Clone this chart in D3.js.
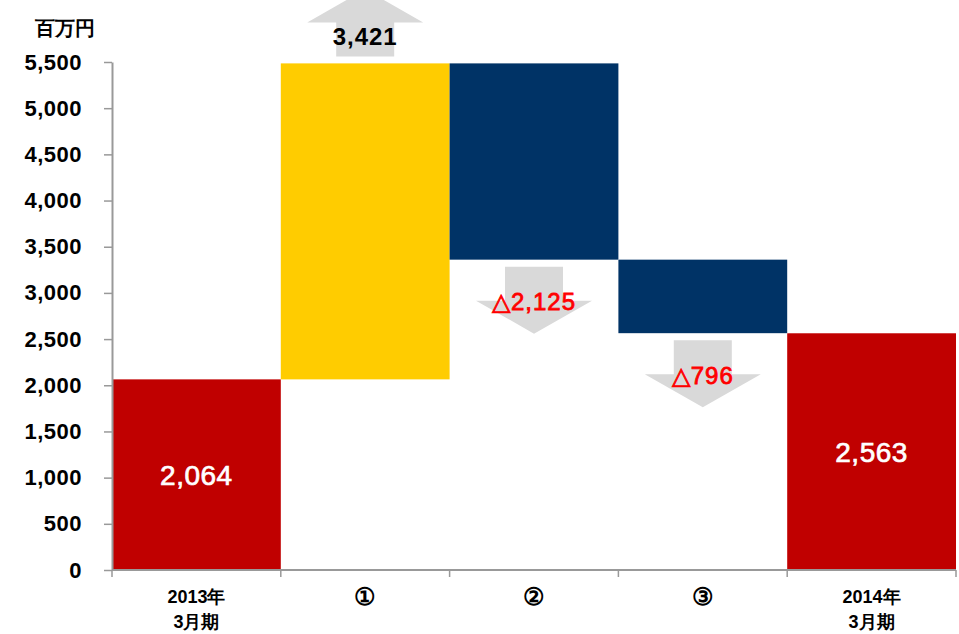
<!DOCTYPE html>
<html>
  <body style="margin:0">
    <style>
      body { background: #fff; }
      text { font-family: 'Liberation Sans', Arial, sans-serif; }
    </style>
    <script src="https://d3js.org/d3.v7.min.js"></script>
    <script type="text/javascript">
      const width = 959;
      const height = 634;
      const margin = { top: 62, right: 3, bottom: 64, left: 112 };

      const categories = ['2013年\n3月期', '①', '②', '③', '2014年\n3月期'];
      // start total, three changes, end total
      const values = [2064, 3421, -2125, -796, 2563];
      const kinds = ['total', 'delta', 'delta', 'delta', 'total'];
      const labels = ['2,064', '3,421', '△2,125', '△796', '2,563'];
      const yTicks = [0, 500, 1000, 1500, 2000, 2500, 3000, 3500, 4000, 4500, 5000, 5500];
      const unitLabel = '百万円';

      const colors = { total: '#C00000', up: '#FFCC00', down: '#003366', arrow: '#D9D9D9' };

      // running base for the waterfall
      let run = 0;
      const bars = categories.map((c, i) => {
        let y0, y1;
        if (kinds[i] === 'total') { y0 = 0; y1 = values[i]; run = values[i]; }
        else { y0 = run; y1 = run + values[i]; run = y1; }
        return { cat: c, y0, y1, kind: kinds[i], value: values[i], label: labels[i] };
      });

      const svg = d3.select('body').append('svg')
        .attr('width', width)
        .attr('height', height);

      const x = d3.scaleBand()
        .domain(categories)
        .range([margin.left, width - margin.right])
        .padding(0);
      const y = d3.scaleLinear()
        .domain([0, 5500])
        .range([height - margin.bottom, margin.top]);

      const fillOf = (d) => d.kind === 'total' ? colors.total : (d.value > 0 ? colors.up : colors.down);

      svg.append('g').selectAll('rect')
        .data(bars)
        .enter()
        .append('rect')
        .attr('x', (d) => x(d.cat))
        .attr('y', (d) => y(Math.max(d.y0, d.y1)))
        .attr('width', x.bandwidth())
        .attr('height', (d) => Math.abs(y(d.y0) - y(d.y1)))
        .attr('fill', fillOf);

      // arrows for the changes
      const arrowLen = 67, headLen = 33, bodyW = 58, headW = 116, gap = 7;
      const deltas = bars.filter((d) => d.kind === 'delta');
      deltas.forEach((d) => {
        const cx = x(d.cat) + x.bandwidth() / 2;
        const up = d.value > 0;
        const s = up ? -1 : 1;
        const start = y(up ? Math.max(d.y0, d.y1) : Math.min(d.y0, d.y1)) + s * gap;
        const headBase = start + s * (arrowLen - headLen);
        const tip = start + s * arrowLen;
        const pts = [
          [cx - bodyW / 2, start], [cx + bodyW / 2, start], [cx + bodyW / 2, headBase],
          [cx + headW / 2, headBase], [cx, tip], [cx - headW / 2, headBase], [cx - bodyW / 2, headBase]
        ];
        svg.append('path')
          .attr('d', d3.line()(pts) + 'Z')
          .attr('fill', colors.arrow);
        svg.append('text')
          .attr('x', cx)
          .attr('y', up ? start - 20 : start + 35)
          .attr('dy', '0.36em')
          .attr('text-anchor', 'middle')
          .attr('font-size', 24)
          .attr('font-weight', up ? 'bold' : 'normal')
          .attr('letter-spacing', 1)
          .attr('stroke', up ? 'none' : '#FF0000')
          .attr('stroke-width', 0.8)
          .attr('fill', up ? '#000' : '#FF0000')
          .text(d.label);
      });

      // labels in the total bars
      svg.append('g').selectAll('text')
        .data(bars.filter((d) => d.kind === 'total'))
        .enter()
        .append('text')
        .attr('x', (d) => x(d.cat) + x.bandwidth() / 2)
        .attr('y', (d) => (y(d.y0) + y(d.y1)) / 2)
        .attr('dy', '0.36em')
        .attr('text-anchor', 'middle')
        .attr('font-size', 28)
        .attr('letter-spacing', 0.5)
        .attr('stroke', '#fff')
        .attr('stroke-width', 0.7)
        .attr('fill', '#fff')
        .text((d) => d.label);

      // y axis
      const axisLeft = d3.axisLeft(y)
        .tickValues(yTicks)
        .tickFormat(d3.format(','))
        .tickSize(8)
        .tickSizeOuter(0);
      const gy = svg.append('g')
        .attr('transform', `translate(${margin.left}, 0)`)
        .call(axisLeft);
      gy.select('.domain').attr('stroke', '#999').attr('stroke-width', 2);
      gy.selectAll('.tick line').attr('stroke', '#999').attr('stroke-width', 1.5);
      gy.selectAll('.tick text')
        .attr('x', -30)
        .attr('font-size', 22)
        .attr('font-weight', 'bold')
        .attr('letter-spacing', 0.5)
        .attr('fill', '#000');

      // x axis with ticks on the band edges
      const gx = svg.append('g');
      const x0 = y(0);
      gx.append('line')
        .attr('x1', margin.left).attr('x2', width - margin.right)
        .attr('y1', x0).attr('y2', x0)
        .attr('stroke', '#999').attr('stroke-width', 2);
      const edges = categories.map((c) => x(c)).concat([x(categories[categories.length - 1]) + x.bandwidth()]);
      gx.selectAll('line.edge')
        .data(edges)
        .enter()
        .append('line')
        .attr('class', 'edge')
        .attr('x1', (d) => d).attr('x2', (d) => d)
        .attr('y1', x0).attr('y2', x0 + 7)
        .attr('stroke', '#999').attr('stroke-width', 1.5);
      const xl = gx.selectAll('text')
        .data(categories)
        .enter()
        .append('text')
        .attr('x', (d) => x(d) + x.bandwidth() / 2)
        .attr('y', (d) => d.length === 1 ? x0 + 35 : x0 + 33)
        .attr('text-anchor', 'middle')
        .attr('font-family', (d) => d.length === 1 ? "'Noto Sans CJK JP', sans-serif" : null)
        .attr('font-size', (d) => d.length === 1 ? 24 : 18)
        .attr('font-weight', 'bold')
        .attr('fill', '#000');
      xl.each(function (d) {
        const lines = d.split('\n');
        lines.forEach((t, i) => {
          d3.select(this).append('tspan')
            .attr('x', x(d) + x.bandwidth() / 2)
            .attr('dy', i === 0 ? 0 : 25)
            .text(t);
        });
      });

      svg.append('text')
        .attr('x', 65)
        .attr('y', 35)
        .attr('text-anchor', 'middle')
        .attr('font-size', 20)
        .attr('font-weight', 'bold')
        .attr('fill', '#000')
        .text(unitLabel);
    </script>
  </body>
</html>
